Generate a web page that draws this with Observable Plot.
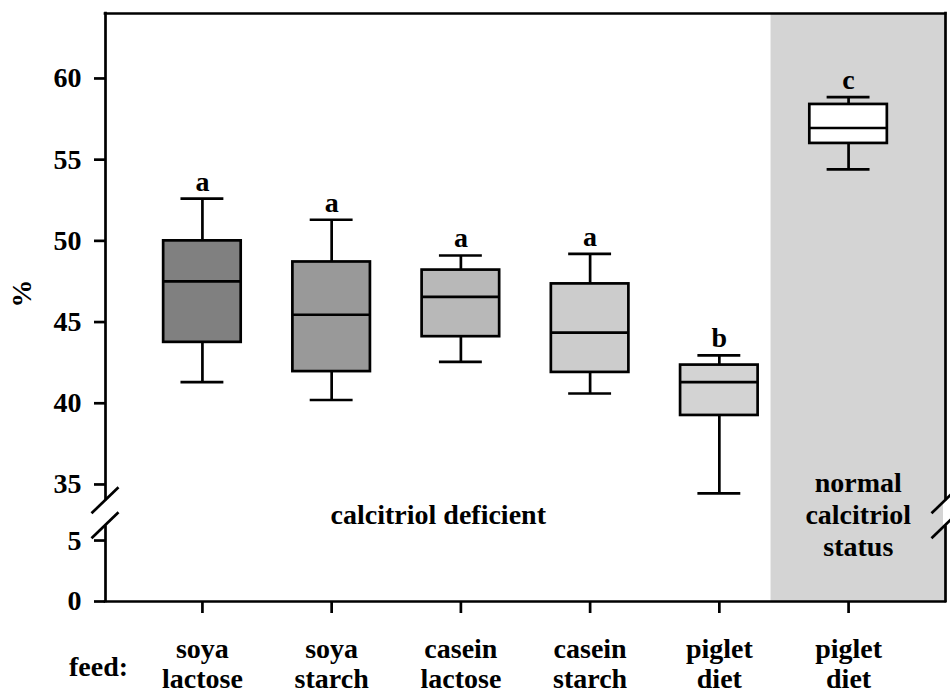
<!DOCTYPE html>
<html>
<head>
<meta charset="utf-8">
<script src="https://cdn.jsdelivr.net/npm/d3@7"></script>
<script src="https://cdn.jsdelivr.net/npm/@observablehq/plot@0.6"></script>
<style>
  html, body { margin: 0; padding: 0; background: #fff; }
  #chart svg { display: block; }
</style>
</head>
<body>
<div id="chart"></div>
<script>
// ---- data ----
const xLabels   = ["soya\nlactose", "soya\nstarch", "casein\nlactose", "casein\nstarch", "piglet\ndiet", "piglet\ndiet"];
const whiskerLo = [41.3, 40.2, 42.55, 40.6, 34.45, 54.4];
const q1        = [43.75, 41.95, 44.1, 41.9, 39.25, 56.0];
const median    = [47.5, 45.45, 46.55, 44.35, 41.3, 56.95];
const q3        = [50.0, 48.7, 48.2, 47.35, 42.35, 58.4];
const whiskerHi = [52.6, 51.3, 49.1, 49.2, 42.95, 58.85];
const letters   = ["a", "a", "a", "a", "b", "c"];
const fills     = ["#808080", "#999999", "#b8b8b8", "#cccccc", "#d3d3d3", "#ffffff"];
const yTicks    = [0, 5, 35, 40, 45, 50, 55, 60];
const regionNames = ["calcitriol deficient", "normal\ncalcitriol\nstatus"];
const regionStart = [0.25, 5.4];
const regionEnd   = [5.4, 6.75];
const regionFill  = ["none", "#d4d4d4"];

// ---- scales ----
const X_DOMAIN = [0.25, 6.75];
const Y_DOMAIN = [0, 6.2, 34, 64];       // broken axis: 0–6.2 and 34–64
const Y_RANGE  = [601, 525.4, 500.2, 13];

const boxes = xLabels.map((label, i) => ({
  i: i + 1, label,
  lo: whiskerLo[i], q1: q1[i], med: median[i], q3: q3[i], hi: whiskerHi[i],
  letter: letters[i], fill: fills[i]
}));
const regions = regionNames.map((name, i) => ({name, x1: regionStart[i], x2: regionEnd[i], fill: regionFill[i]}));

const HALF_BOX = 0.3, HALF_CAP = 0.166, SW = 2.7, FS = 28;

// axis break decorations (slashes and gap), drawn from the scales
function axisBreaks(index, scales) {
  const y = scales.y, x = scales.x;
  const mid = (y(Y_DOMAIN[1]) + y(Y_DOMAIN[2])) / 2;
  const g = d3.create("svg:g");
  for (const xv of X_DOMAIN) {
    const px = x(xv);
    g.append("rect").attr("x", px - 2).attr("y", mid - 12.5).attr("width", 4).attr("height", 25).attr("fill", "white");
    for (const c of [mid - 12.5, mid + 12.5]) {
      g.append("line")
        .attr("x1", px - 13.5).attr("y1", c + 13)
        .attr("x2", px + 13.5).attr("y2", c - 13)
        .attr("stroke", "black").attr("stroke-width", SW);
    }
  }
  return g.node();
}

const chart = Plot.plot({
  width: 950,
  height: 695,
  marginLeft: 105,
  marginRight: 5,
  marginTop: 13,
  marginBottom: 94,
  style: {
    fontFamily: '"Liberation Serif", "Times New Roman", serif',
    fontWeight: "bold",
    fontSize: FS + "px",
    color: "black",
    background: "white",
    overflow: "visible"
  },
  x: {type: "linear", domain: X_DOMAIN},
  y: {type: "linear", domain: Y_DOMAIN, range: Y_RANGE},
  marks: [
    Plot.rect(regions.filter(d => d.fill !== "none"), {x1: "x1", x2: "x2", y1: Y_DOMAIN[0], y2: Y_DOMAIN[3], fill: "fill"}),
    // frame
    Plot.ruleY([Y_DOMAIN[3]], {x1: X_DOMAIN[0], x2: X_DOMAIN[1], stroke: "black", strokeWidth: SW, strokeLinecap: "square"}),
    Plot.ruleY([Y_DOMAIN[0]], {x1: X_DOMAIN[0], x2: X_DOMAIN[1], stroke: "black", strokeWidth: SW, strokeLinecap: "square"}),
    Plot.ruleX(X_DOMAIN, {y1: Y_DOMAIN[0], y2: Y_DOMAIN[3], stroke: "black", strokeWidth: SW, strokeLinecap: "square"}),
    // whiskers
    Plot.ruleX(boxes, {x: "i", y1: "lo", y2: "hi", stroke: "black", strokeWidth: SW}),
    Plot.ruleY(boxes, {y: "lo", x1: d => d.i - HALF_CAP, x2: d => d.i + HALF_CAP, stroke: "black", strokeWidth: SW}),
    Plot.ruleY(boxes, {y: "hi", x1: d => d.i - HALF_CAP, x2: d => d.i + HALF_CAP, stroke: "black", strokeWidth: SW}),
    // boxes
    Plot.rect(boxes, {x1: d => d.i - HALF_BOX, x2: d => d.i + HALF_BOX, y1: "q1", y2: "q3", fill: "fill", stroke: "black", strokeWidth: SW}),
    Plot.ruleY(boxes, {y: "med", x1: d => d.i - HALF_BOX, x2: d => d.i + HALF_BOX, stroke: "black", strokeWidth: SW}),
    // significance letters
    Plot.text(boxes, {x: "i", y: "hi", text: "letter", dy: -8, lineAnchor: "bottom", fontSize: FS}),
    // region labels
    Plot.text(regions, {x: d => (d.x1 + d.x2) / 2, text: "name", frameAnchor: "bottom", dy: -88, lineAnchor: "middle", lineHeight: 1.14, fontSize: FS}),
    // axes
    Plot.axisY(yTicks, {anchor: "left", tickSize: 11, tickPadding: 13, strokeWidth: SW, fontSize: FS, label: null}),
    Plot.axisX(boxes.map(d => d.i), {anchor: "bottom", tickSize: 12, tickPadding: 24, strokeWidth: SW, fontSize: FS, lineHeight: 1.05, label: null, tickFormat: i => xLabels[i - 1]}),
    Plot.text(["%"], {frameAnchor: "left", dx: -83, rotate: -90, fontSize: FS}),
    Plot.text(["feed:"], {frameAnchor: "bottom-left", dx: -7, dy: 55, lineAnchor: "top", textAnchor: "middle", fontSize: FS}),
    axisBreaks
  ]
});

document.getElementById("chart").appendChild(chart);
</script>
</body>
</html>
